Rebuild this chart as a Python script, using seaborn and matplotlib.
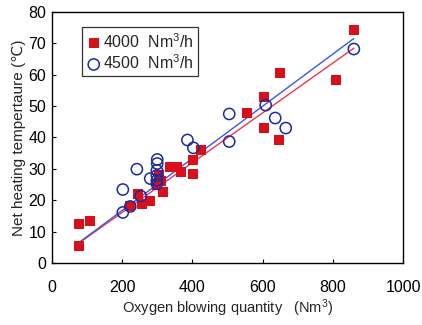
import matplotlib
matplotlib.use('Agg')
import matplotlib.pyplot as plt
import seaborn as sns
import pandas as pd
import numpy as np

# Readings: oxygen blown (Nm3) vs net heating temperature (C)
x_4000 = [78, 78, 108, 222, 244, 256, 279, 300, 305, 310, 317, 336, 355, 367,
          402, 402, 426, 555, 605, 605, 647, 651, 809, 861]
y_4000 = [5.3, 12.3, 13.3, 18.0, 21.9, 18.7, 19.8, 25.0, 28.0, 26.0, 22.5, 30.5,
          30.6, 29.0, 28.4, 32.7, 35.9, 47.7, 53.0, 43.0, 39.2, 60.4, 58.3, 74.3]

x_4500 = [202, 202, 223, 242, 253, 280, 300, 300, 299, 299, 299, 299,
          386, 403, 505, 505, 609, 636, 666, 860]
y_4500 = [16.1, 23.4, 18.0, 29.9, 21.3, 26.9, 33.0, 31.7, 29.5, 27.9, 26.3, 25.2,
          39.2, 36.7, 47.5, 38.7, 50.3, 46.2, 43.0, 68.2]

# fitted lines as drawn in the figure (slope, intercept) and their x span
fit_4000 = [0.0794, 0.2]
fit_4500 = [0.0831, 0.1]
fit_span = [78, 860]

df_a = pd.DataFrame({'oxygen': x_4000, 'temp': y_4000})
df_b = pd.DataFrame({'oxygen': x_4500, 'temp': y_4500})
xs = np.array(fit_span)
line_a = pd.DataFrame({'oxygen': xs, 'temp': np.polyval(fit_4000, xs)})
line_b = pd.DataFrame({'oxygen': xs, 'temp': np.polyval(fit_4500, xs)})

sns.set_style('ticks')
plt.rcParams['font.family'] = ['Liberation Sans', 'DejaVu Sans']
plt.rcParams['mathtext.default'] = 'regular'

fig = plt.figure(figsize=(4.22, 3.25), dpi=100)
ax = fig.add_axes([0.123, 0.191, 0.832, 0.772])

red = '#d8101c'
navy = '#1c2c9c'

sns.lineplot(data=line_a, x='oxygen', y='temp', color='#f03848', lw=1.0, ax=ax)
sns.lineplot(data=line_b, x='oxygen', y='temp', color='#3858e8', lw=1.0, ax=ax)

sns.scatterplot(data=df_a, x='oxygen', y='temp', marker='s', s=55, color=red,
                edgecolor=red, linewidth=0, ax=ax, label='4000  Nm$^{3}$/h', zorder=3)
sns.scatterplot(data=df_b, x='oxygen', y='temp', marker='o', s=65,
                facecolor='none', edgecolor=navy, linewidth=1.1, ax=ax,
                label='4500  Nm$^{3}$/h', zorder=4)

ax.set_xlim(0, 1000)
ax.set_ylim(0, 80)
ax.set_xticks([0, 200, 400, 600, 800, 1000])
ax.set_yticks(range(0, 81, 10))
ax.tick_params(direction='in', length=3, width=0.8, labelsize=11.5, colors='black')
ax.tick_params(axis='x', pad=12)
ax.tick_params(axis='y', pad=4)
for sp in ax.spines.values():
    sp.set_visible(True)
    sp.set_color('black')
    sp.set_linewidth(1.0)

ax.set_xlabel('Oxygen blowing quantity   (Nm$^{3}$)', fontsize=10.5, labelpad=2)
ax.set_ylabel('Net heating tempertaure (\u2103)', fontsize=11, labelpad=2)

leg = ax.legend(loc='upper left', bbox_to_anchor=(0.085, 0.94), frameon=True,
                fancybox=False, edgecolor='black', fontsize=11.5, handletextpad=0.1,
                handlelength=0.9, borderpad=0.3, labelspacing=0.15, borderaxespad=0)
leg.get_frame().set_linewidth(0.9)

fig.savefig('out.png', dpi=100)
